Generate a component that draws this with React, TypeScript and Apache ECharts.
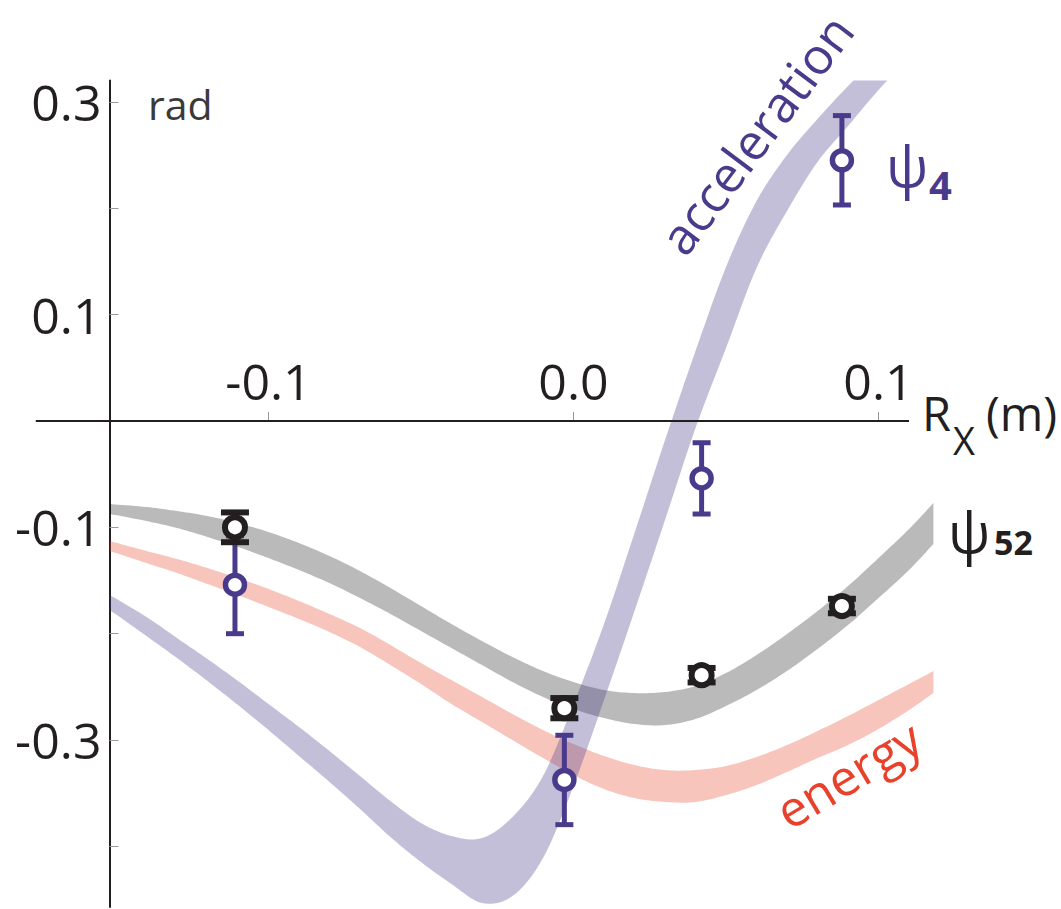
import React, { useEffect, useRef } from 'react';
import * as echarts from 'echarts';

// ---------- data ----------
const bandX = [-0.152, -0.14, -0.13, -0.12, -0.11, -0.10, -0.09, -0.08, -0.07, -0.06, -0.05, -0.04, -0.03, -0.02, -0.01, 0.0, 0.01, 0.02, 0.03, 0.04, 0.05, 0.06, 0.07, 0.08, 0.09, 0.10, 0.11, 0.118];

const accelUpper = [-0.1637, -0.1843, -0.2041, -0.2238, -0.2445, -0.2661, -0.2877, -0.3103, -0.3338, -0.3573, -0.3780, -0.3902, -0.3921, -0.3723, -0.3338, -0.2661, -0.1909, -0.1054, -0.0180, 0.0657, 0.1447, 0.2067, 0.2500, 0.2838, 0.3148, 0.3430, 0.3693, 0.3881];
const accelLower = [-0.1778, -0.2022, -0.2229, -0.2445, -0.2671, -0.2906, -0.3150, -0.3394, -0.3648, -0.3912, -0.4147, -0.4353, -0.4532, -0.4466, -0.4109, -0.3432, -0.2624, -0.1787, -0.0932, -0.0067, 0.0685, 0.1437, 0.1973, 0.2434, 0.2772, 0.3111, 0.3411, 0.3618];

const psi52Upper = [-0.0781, -0.0809, -0.0847, -0.0894, -0.0960, -0.1044, -0.1148, -0.1270, -0.1411, -0.1571, -0.1740, -0.1909, -0.2069, -0.2219, -0.2351, -0.2454, -0.2530, -0.2558, -0.2548, -0.2492, -0.2370, -0.2201, -0.2003, -0.1787, -0.1552, -0.1289, -0.1016, -0.0772];
const psi52Lower = [-0.0875, -0.0941, -0.1007, -0.1091, -0.1185, -0.1289, -0.1402, -0.1524, -0.1665, -0.1815, -0.1975, -0.2135, -0.2295, -0.2454, -0.2595, -0.2708, -0.2793, -0.2849, -0.2859, -0.2802, -0.2680, -0.2530, -0.2351, -0.2144, -0.1919, -0.1665, -0.1402, -0.1157];

const energyUpper = [-0.1129, -0.1223, -0.1298, -0.1383, -0.1477, -0.1580, -0.1693, -0.1815, -0.1947, -0.2107, -0.2276, -0.2436, -0.2595, -0.2755, -0.2906, -0.3037, -0.3150, -0.3235, -0.3282, -0.3282, -0.3244, -0.3159, -0.3047, -0.2915, -0.2774, -0.2624, -0.2473, -0.2351];
const energyLower = [-0.1223, -0.1336, -0.1430, -0.1533, -0.1637, -0.1749, -0.1862, -0.1984, -0.2125, -0.2295, -0.2473, -0.2661, -0.2830, -0.3000, -0.3169, -0.3329, -0.3460, -0.3545, -0.3582, -0.3582, -0.3517, -0.3423, -0.3300, -0.3169, -0.3047, -0.2896, -0.2718, -0.2558];

const pointX = [-0.111, -0.003, 0.042, 0.088];
const psi52Y = [-0.100, -0.270, -0.239, -0.174];
const psi52Err = [0.014, 0.0095, 0.0068, 0.0068];
const psi4Y = [-0.154, -0.3375, -0.054, 0.245];
const psi4Err = [0.046, 0.042, 0.0335, 0.042];

const xTickValues = [-0.1, 0.0, 0.1];
const yTickValues = [-0.4, -0.3, -0.2, -0.1, 0.0, 0.1, 0.2, 0.3];
const yLabelValues = [-0.3, -0.1, 0.1, 0.3];

const X_MIN = -0.1763;
const X_MAX = 0.1179;
const X_AXIS_END = 0.110;
const Y_MIN = -0.457;
const Y_MAX = 0.32;

// ---------- styles ----------
const FONT = "'Open Sans', 'Noto Sans', sans-serif";
const PURPLE = '#4a3a8c';
const BLACK = '#231f20';
const RED = '#e8412c';

// Catmull-Rom smoothing of a pixel polyline (rendering only)
function smoothPixels(pts: number[][], steps = 10): number[][] {
  const out: number[][] = [];
  const n = pts.length;
  for (let i = 0; i < n - 1; i++) {
    const p0 = pts[Math.max(0, i - 1)];
    const p1 = pts[i];
    const p2 = pts[i + 1];
    const p3 = pts[Math.min(n - 1, i + 2)];
    for (let s = 0; s < steps; s++) {
      const t = s / steps;
      const t2 = t * t;
      const t3 = t2 * t;
      const f = (a: number, b: number, c: number, d: number) =>
        0.5 * (2 * b + (-a + c) * t + (2 * a - 5 * b + 4 * c - d) * t2 + (-a + 3 * b - 3 * c + d) * t3);
      out.push([f(p0[0], p1[0], p2[0], p3[0]), f(p0[1], p1[1], p2[1], p3[1])]);
    }
  }
  out.push(pts[n - 1]);
  return out;
}

function bandSeries(name: string, lower: number[], upper: number[], color: string, z: number) {
  return {
    name,
    type: 'custom',
    data: bandX.map((x, i) => [x, lower[i], upper[i]]),
    encode: { x: 0, y: [1, 2] },
    clip: true,
    silent: true,
    z,
    renderItem: (params: any, api: any) => {
      if (params.dataIndexInside !== 0) return null;
      const n = params.dataInsideLength;
      const up: number[][] = [];
      const lo: number[][] = [];
      for (let i = 0; i < n; i++) {
        const x = api.value(0, i);
        up.push(api.coord([x, api.value(2, i)]));
        lo.push(api.coord([x, api.value(1, i)]));
      }
      const top = smoothPixels(up);
      const bot = smoothPixels(lo).reverse();
      return {
        type: 'polygon',
        shape: { points: top.concat(bot) },
        style: { fill: color, stroke: 'none' },
      };
    },
  };
}

function errorSeries(name: string, ys: number[], errs: number[], color: string, lw: number, capHalf: number, z: number) {
  return {
    name,
    type: 'custom',
    data: pointX.map((x, i) => [x, ys[i] - errs[i], ys[i] + errs[i]]),
    encode: { x: 0, y: [1, 2] },
    silent: true,
    z,
    renderItem: (_params: any, api: any) => {
      const x = api.value(0);
      const top = api.coord([x, api.value(2)]);
      const bot = api.coord([x, api.value(1)]);
      const style = { stroke: color, lineWidth: lw, fill: 'none' };
      return {
        type: 'group',
        children: [
          { type: 'line', shape: { x1: top[0], y1: top[1], x2: bot[0], y2: bot[1] }, style },
          { type: 'line', shape: { x1: top[0] - capHalf, y1: top[1], x2: top[0] + capHalf, y2: top[1] }, style },
          { type: 'line', shape: { x1: bot[0] - capHalf, y1: bot[1], x2: bot[0] + capHalf, y2: bot[1] }, style },
        ],
      };
    },
  };
}

function markerSeries(name: string, ys: number[], color: string, size: number, bw: number, z: number) {
  return {
    name,
    type: 'scatter',
    data: pointX.map((x, i) => [x, ys[i]]),
    symbol: 'circle',
    symbolSize: size,
    itemStyle: { color: '#ffffff', borderColor: color, borderWidth: bw, opacity: 1 },
    silent: true,
    z,
  };
}

export default function App() {
  const ref = useRef<HTMLDivElement>(null);
  useEffect(() => {
    if (!ref.current) return;
    const chart = echarts.init(ref.current, null, { renderer: 'svg' });
    const gridTop = 80.5;
    const gridBottom = 1.9;
    const plotH = 909 - gridTop - gridBottom;
    const zeroOffset = -(plotH * (0 - Y_MIN)) / (Y_MAX - Y_MIN);
    const option: any = {
      animation: false,
      backgroundColor: '#ffffff',
      grid: { left: 35.8, right: 127.9, top: gridTop, bottom: gridBottom, containLabel: false, outerBoundsMode: 'none' },
      xAxis: {
        type: 'value',
        min: X_MIN,
        max: X_MAX,
        position: 'bottom',
        offset: zeroOffset,
        axisLine: { show: false, onZero: false },
        axisTick: { show: true, inside: true, length: 9, customValues: xTickValues, lineStyle: { color: '#9a9a9a', width: 1 } },
        axisLabel: {
          inside: true,
          customValues: xTickValues,
          formatter: (v: number) => v.toFixed(1),
          fontSize: 50,
          fontFamily: FONT,
          color: BLACK,
          margin: 15,
        },
        splitLine: { show: false },
      },
      yAxis: {
        type: 'value',
        min: Y_MIN,
        max: Y_MAX,
        position: 'left',
        offset: -73.7,
        axisLine: { show: true, onZero: false, lineStyle: { color: BLACK, width: 2 } },
        axisTick: { show: true, inside: true, length: 9, customValues: yTickValues, lineStyle: { color: '#9a9a9a', width: 1 } },
        axisLabel: {
          customValues: yLabelValues,
          formatter: (v: number) => v.toFixed(1),
          fontSize: 50,
          fontFamily: FONT,
          color: BLACK,
          margin: 8,
        },
        splitLine: { show: false },
      },
      series: [
        bandSeries('ψ52 band', psi52Lower, psi52Upper, 'rgba(0,0,0,0.27)', 2),
        bandSeries('energy', energyLower, energyUpper, 'rgba(232,74,50,0.32)', 3),
        bandSeries('acceleration', accelLower, accelUpper, 'rgba(72,61,139,0.33)', 4),
        {
          name: 'x axis line',
          type: 'line',
          data: [[X_MIN, 0], [X_AXIS_END, 0]],
          symbol: 'none',
          lineStyle: { color: BLACK, width: 2 },
          silent: true,
          z: 6,
        },
        errorSeries('ψ4 error', psi4Y, psi4Err, PURPLE, 5, 9, 10),
        markerSeries('ψ4', psi4Y, PURPLE, 19, 5.5, 11),
        errorSeries('ψ52 error', psi52Y, psi52Err, BLACK, 6, 14, 12),
        markerSeries('ψ52', psi52Y, BLACK, 20, 6, 13),
      ],
      graphic: [
        { type: 'text', x: 148, y: 104, style: { text: 'rad', fontSize: 41, fontFamily: FONT, fill: '#3a3a3a', align: 'left', verticalAlign: 'middle' } },
        { type: 'text', x: 922, y: 413, style: { text: 'R', fontSize: 47, fontFamily: FONT, fill: BLACK, align: 'left', verticalAlign: 'middle' } },
        { type: 'text', x: 953, y: 440, style: { text: 'X', fontSize: 38, fontFamily: FONT, fill: BLACK, align: 'left', verticalAlign: 'middle' } },
        { type: 'text', x: 986, y: 413, style: { text: '(m)', fontSize: 47, fontFamily: FONT, fill: BLACK, align: 'left', verticalAlign: 'middle' } },
        { type: 'text', x: 886, y: 165, style: { text: 'ψ', fontSize: 56, fontFamily: FONT, fill: PURPLE, align: 'left', verticalAlign: 'middle' } },
        { type: 'text', x: 929, y: 184, style: { text: '4', fontSize: 40, fontWeight: 'bold', fontFamily: FONT, fill: PURPLE, align: 'left', verticalAlign: 'middle' } },
        { type: 'text', x: 948, y: 531, style: { text: 'ψ', fontSize: 56, fontFamily: FONT, fill: BLACK, align: 'left', verticalAlign: 'middle' } },
        { type: 'text', x: 994, y: 542, style: { text: '52', fontSize: 34, fontWeight: 'bold', fontFamily: FONT, fill: BLACK, align: 'left', verticalAlign: 'middle' } },
        { type: 'text', x: 756, y: 134, rotation: (53 * Math.PI) / 180, style: { text: 'acceleration', fontSize: 50, fontFamily: FONT, fill: PURPLE, align: 'center', verticalAlign: 'middle' } },
        { type: 'text', x: 848, y: 774, rotation: (31 * Math.PI) / 180, style: { text: 'energy', fontSize: 50, fontFamily: FONT, fill: RED, align: 'center', verticalAlign: 'middle' } },
      ],
    };
    chart.setOption(option);
    return () => chart.dispose();
  }, []);
  return <div ref={ref} style={{ position: 'absolute', left: 0, top: 0, width: 1061, height: 909 }} />;
}
